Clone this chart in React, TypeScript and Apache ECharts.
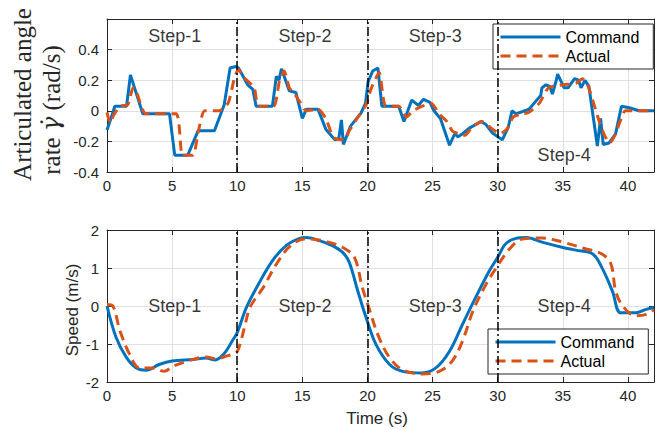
import React, { useEffect, useRef } from 'react';
import * as echarts from 'echarts';

// ---- Articulated angle rate (rad/s) ----
const cmdRateT = [0, 0.3, 0.6, 1.5, 1.8, 2.75, 4.8, 5.2, 6.2, 7.0, 8.25, 9.0, 9.45, 9.9, 10.1, 10.8, 11.2, 11.45, 12.7, 13.0, 13.2, 13.4, 14.0, 14.5, 15.0, 15.3, 16.2, 16.8, 17.5, 17.8, 18.0, 18.15, 18.7, 19.5, 19.85, 20.05, 20.4, 20.8, 21.1, 22.4, 22.8, 23.4, 23.9, 24.3, 24.8, 25.1, 25.6, 26.3, 26.7, 26.95, 27.3, 27.8, 28.7, 29.1, 29.6, 30.35, 30.8, 31.1, 31.4, 32.4, 32.9, 33.3, 33.4, 33.7, 34.0, 34.2, 34.5, 34.6, 35.1, 35.4, 35.9, 36.2, 36.4, 36.7, 37.0, 37.65, 37.9, 38.1, 38.55, 39.05, 39.5, 40.1, 40.85, 42];
const cmdRateV = [-0.125, -0.05, 0.03, 0.03, 0.235, -0.02, -0.02, -0.29, -0.29, -0.13, -0.13, 0.04, 0.28, 0.29, 0.28, 0.17, 0.14, 0.03, 0.03, 0.225, 0.2, 0.275, 0.13, 0.12, -0.05, 0.01, 0.01, -0.12, -0.19, -0.18, -0.06, -0.22, -0.1, -0.015, 0.05, 0.19, 0.26, 0.28, 0.03, 0.03, -0.07, 0.07, 0.035, 0.075, 0.055, 0.0, -0.05, -0.225, -0.15, -0.17, -0.15, -0.115, -0.07, -0.09, -0.145, -0.19, -0.11, 0.0, -0.02, 0.01, 0.06, 0.1, 0.15, 0.17, 0.16, 0.11, 0.2, 0.24, 0.15, 0.15, 0.21, 0.2, 0.15, 0.2, 0.16, -0.23, -0.05, -0.22, -0.21, -0.15, 0.03, 0.02, 0.0, 0.0];
const actRateT = [0, 0.25, 0.5, 1.0, 1.6, 2.0, 2.2, 3.0, 5.3, 5.8, 6.6, 7.0, 7.5, 8.6, 9.3, 9.8, 10.1, 10.5, 11.3, 11.5, 11.7, 12.8, 13.25, 13.6, 14.0, 14.4, 14.8, 15.3, 16.2, 16.8, 17.2, 17.5, 18.2, 18.6, 19.2, 19.9, 20.3, 20.9, 21.2, 21.4, 22.4, 23.0, 23.5, 24.2, 24.9, 25.5, 26.1, 26.5, 27.0, 27.5, 28.0, 28.8, 29.6, 30.2, 30.7, 31.2, 31.9, 32.4, 33.2, 33.9, 35.0, 36.0, 36.5, 36.9, 37.4, 37.8, 38.2, 38.6, 39.0, 39.4, 39.8, 42];
const actRateV = [-0.01, -0.08, -0.03, 0.03, 0.04, 0.15, 0.14, -0.02, -0.02, -0.29, -0.29, -0.14, 0.0, 0.0, 0.05, 0.22, 0.27, 0.22, 0.15, 0.06, 0.03, 0.03, 0.2, 0.26, 0.15, 0.11, 0.06, 0.0, 0.01, -0.05, -0.14, -0.18, -0.19, -0.13, -0.05, 0.04, 0.15, 0.25, 0.09, 0.03, 0.03, -0.04, 0.0, 0.03, 0.05, -0.02, -0.07, -0.13, -0.15, -0.16, -0.11, -0.07, -0.12, -0.15, -0.12, -0.04, -0.02, -0.01, 0.05, 0.15, 0.17, 0.18, 0.21, 0.17, 0.04, -0.07, -0.16, -0.21, -0.16, -0.07, 0.0, 0.0];

// ---- Speed (m/s) ----
const cmdSpeedT = [0, 0.7, 1.5, 2.25, 3.0, 4.0, 5.0, 6.6, 7.6, 8.3, 9.0, 9.65, 10.0, 10.7, 11.7, 12.7, 13.75, 14.8, 15.3, 16.3, 17.3, 18.1, 18.6, 19.25, 19.9, 20.65, 21.7, 22.7, 24.2, 25.25, 26.3, 27.3, 28.3, 29.35, 30.0, 30.6, 31.4, 32.2, 33.4, 35.0, 36.0, 37.3, 38.0, 38.8, 39.45, 40.6, 41.4, 42];
const cmdSpeedV = [0, -0.83, -1.36, -1.63, -1.69, -1.54, -1.45, -1.41, -1.37, -1.42, -1.25, -0.9, -0.7, -0.04, 0.62, 1.19, 1.59, 1.78, 1.8, 1.72, 1.59, 1.41, 1.15, 0.4, -0.31, -1.01, -1.54, -1.72, -1.76, -1.63, -1.19, -0.48, 0.22, 0.92, 1.28, 1.63, 1.78, 1.8, 1.68, 1.54, 1.47, 1.37, 1.01, 0.4, -0.18, -0.18, -0.09, -0.04];
const actSpeedT = [0, 0.45, 1.0, 1.75, 2.5, 3.5, 4.4, 5.05, 6.1, 7.1, 7.6, 8.4, 9.15, 9.65, 10.0, 10.3, 10.6, 10.9, 11.2, 12.0, 13.0, 14.1, 15.3, 16.8, 18.1, 19.0, 19.6, 20.1, 20.85, 21.7, 22.7, 24.2, 25.5, 26.5, 27.3, 28.1, 29.1, 29.9, 30.9, 31.9, 33.4, 35.0, 36.8, 38.0, 38.7, 39.05, 39.6, 40.6, 41.4, 42];
const actSpeedV = [0.04, 0.0, -0.66, -1.28, -1.63, -1.63, -1.72, -1.59, -1.46, -1.36, -1.34, -1.39, -1.32, -1.27, -1.2, -0.9, -0.5, -0.1, 0.1, 0.49, 1.1, 1.59, 1.77, 1.7, 1.54, 1.28, 0.49, -0.04, -0.8, -1.36, -1.68, -1.79, -1.72, -1.45, -0.92, -0.13, 0.57, 1.01, 1.5, 1.76, 1.79, 1.68, 1.5, 1.37, 1.1, 0.4, 0.0, -0.26, -0.22, -0.1];

// ---- annotations ----
const stepBounds = [10, 20, 30];
const stepNames = ['Step-1', 'Step-2', 'Step-3', 'Step-4'];
const stepX = [5.2, 15.2, 25.2, 35.1];
const topStepY = [0.49, 0.49, 0.49, -0.29];
const bottomStepY = [0, 0, 0, 0];
const seriesNames = ['Command', 'Actual'];

const BLUE = '#0072BD';
const ORANGE = '#D95319';
const AX = '#262626';
const GRIDC = '#e0e0e0';
const SANS = '"Liberation Sans", Arial, Helvetica, sans-serif';
const SERIF = '"Liberation Serif", "Times New Roman", serif';
const DASH = [10, 6];

const zip = (t: number[], v: number[]) => t.map((x, i) => [x, v[i]]);

function xAxisDef(gridIndex: number, position: string, showLabel: boolean) {
  return {
    type: 'value', gridIndex, position, min: 0, max: 42, interval: 5,
    axisLine: { show: true, onZero: false, lineStyle: { color: AX, width: 1 } },
    axisTick: { show: true, inside: true, length: 5, lineStyle: { color: AX } },
    axisLabel: { show: showLabel, showMaxLabel: false, color: AX, fontSize: 15, fontFamily: SANS, margin: 6 },
    splitLine: { show: position === 'bottom', lineStyle: { color: GRIDC, width: 1 } },
  };
}
function yAxisDef(gridIndex: number, position: string, min: number, max: number, interval: number, hideMax: boolean) {
  return {
    type: 'value', gridIndex, position, min, max, interval,
    axisLine: { show: true, onZero: false, lineStyle: { color: AX, width: 1 } },
    axisTick: { show: true, inside: true, length: 5, lineStyle: { color: AX } },
    axisLabel: { show: position === 'left', showMaxLabel: !hideMax, color: AX, fontSize: 15, fontFamily: SANS, margin: 8 },
    splitLine: { show: position === 'left', lineStyle: { color: GRIDC, width: 1 } },
  };
}

function markLines() {
  return {
    silent: true, symbol: ['none', 'none'], label: { show: false },
    lineStyle: { color: '#000', width: 1.5, type: [9, 3, 2, 3] },
    data: stepBounds.map((x) => ({ xAxis: x })),
  };
}

function stepSeries(xi: number, yi: number, ys: number[]) {
  return {
    type: 'scatter', xAxisIndex: xi, yAxisIndex: yi, silent: true, symbolSize: 1,
    itemStyle: { color: 'rgba(0,0,0,0)' }, z: 5,
    label: { show: true, position: 'inside', fontSize: 18, color: '#000', fontFamily: SANS, formatter: (p: any) => stepNames[p.dataIndex] },
    data: stepX.map((x, i) => [x, ys[i]]),
  };
}

function legendDef(left: number, top: number) {
  return {
    data: seriesNames, orient: 'vertical', left, top,
    itemWidth: 60, itemHeight: 14, itemGap: 3, padding: [5, 14, 5, 6],
    borderColor: AX, borderWidth: 1, backgroundColor: '#fff',
    textStyle: { fontSize: 16, color: '#000', fontFamily: SANS },
    itemStyle: { color: 'rgba(0,0,0,0)', borderColor: 'rgba(0,0,0,0)', borderWidth: 0, opacity: 0 },
    lineStyle: { width: 3 },
  };
}

export default function App() {
  const ref = useRef<HTMLDivElement>(null);
  useEffect(() => {
    const chart = echarts.init(ref.current!, null, { renderer: 'svg' });
    const option: any = {
      animation: false,
      backgroundColor: '#fff',
      grid: [
        { left: 107, top: 19, width: 547, height: 153 },
        { left: 107, top: 230, width: 547, height: 152 },
      ],
      xAxis: [
        xAxisDef(0, 'bottom', true),
        xAxisDef(0, 'top', false),
        xAxisDef(1, 'bottom', true),
        xAxisDef(1, 'top', false),
      ],
      yAxis: [
        yAxisDef(0, 'left', -0.4, 0.6, 0.2, true),
        yAxisDef(0, 'right', -0.4, 0.6, 0.2, true),
        yAxisDef(1, 'left', -2, 2, 1, false),
        yAxisDef(1, 'right', -2, 2, 1, false),
      ],
      legend: [legendDef(493, 24), legendDef(488, 329)],
      series: [
        { type: 'line', name: 'Command', xAxisIndex: 0, yAxisIndex: 0, data: zip(cmdRateT, cmdRateV), symbol: 'none', lineStyle: { color: BLUE, width: 3 }, itemStyle: { color: BLUE }, markLine: markLines() },
        { type: 'line', name: 'Actual', xAxisIndex: 0, yAxisIndex: 0, data: zip(actRateT, actRateV), symbol: 'none', smooth: 0.2, lineStyle: { color: ORANGE, width: 3, type: DASH }, itemStyle: { color: ORANGE } },
        { type: 'line', name: 'Command', xAxisIndex: 2, yAxisIndex: 2, data: zip(cmdSpeedT, cmdSpeedV), symbol: 'none', smooth: 0.35, lineStyle: { color: BLUE, width: 3 }, itemStyle: { color: BLUE }, markLine: markLines() },
        { type: 'line', name: 'Actual', xAxisIndex: 2, yAxisIndex: 2, data: zip(actSpeedT, actSpeedV), symbol: 'none', smooth: 0.35, lineStyle: { color: ORANGE, width: 3, type: DASH }, itemStyle: { color: ORANGE } },
        stepSeries(0, 0, topStepY),
        stepSeries(2, 2, bottomStepY),
      ],
      graphic: [
        { type: 'text', x: 22, y: 94.5, rotation: Math.PI / 2, silent: true,
          style: { text: 'Articulated angle', fontSize: 25, fontFamily: SERIF, fill: AX, align: 'center', verticalAlign: 'middle' } },
        { type: 'text', x: 51, y: 110, rotation: Math.PI / 2, silent: true,
          style: { text: 'rate {g|γ̇} (rad/s)', fontSize: 25, fontFamily: SERIF, fill: AX, align: 'center', verticalAlign: 'middle',
            rich: { g: { fontSize: 24, fontFamily: '"DejaVu Serif", serif', fontStyle: 'italic', fill: AX } } } },
        { type: 'text', x: 72, y: 310, rotation: Math.PI / 2, silent: true,
          style: { text: 'Speed (m/s)', fontSize: 17, fontFamily: SANS, fill: AX, align: 'center', verticalAlign: 'middle' } },
        { type: 'text', x: 377, y: 418, silent: true,
          style: { text: 'Time (s)', fontSize: 17, fontFamily: SANS, fill: AX, align: 'center', verticalAlign: 'middle' } },
      ],
    };
    chart.setOption(option);
    return () => chart.dispose();
  }, []);
  return <div ref={ref} style={{ position: 'fixed', left: 0, top: 0, width: 667, height: 430 }} />;
}
